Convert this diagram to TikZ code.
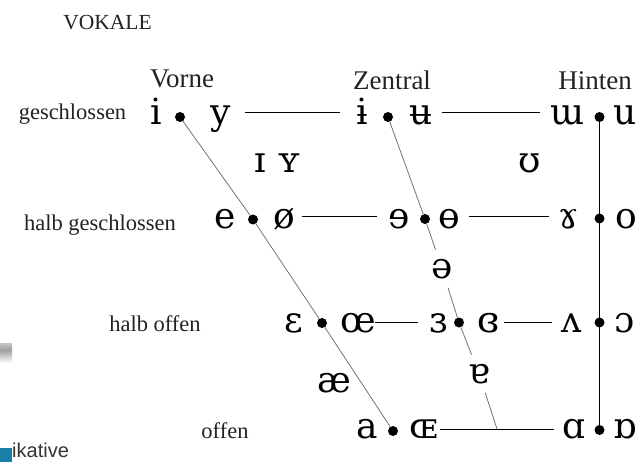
\documentclass[tikz,border=0pt]{standalone}
\usepackage{fontspec}
\setmainfont{Liberation Serif}
\newfontfamily\ipafont{DejaVu Serif}
\newfontfamily\artsans{Liberation Sans}
\definecolor{txt}{HTML}{222222}
\definecolor{tealblue}{HTML}{1A7FA8}
\begin{document}
\begin{tikzpicture}[x=1pt,y=-1pt,
  ipa/.style={font=\ipafont\fontsize{36}{40}\selectfont, anchor=base, inner sep=0pt, text=black},
  gapipa/.style={ipa, inner sep=9pt},
  lab/.style={font=\fontsize{22.5}{26}\selectfont, anchor=base, inner sep=0pt, text=txt},
  head/.style={font=\fontsize{27}{30}\selectfont, anchor=base, inner sep=0pt, text=txt},
  dotn/.style={circle, fill=black, inner sep=0pt, minimum size=10pt},
  hline/.style={line width=1pt, draw=black},
  slant/.style={line width=0.8pt, draw=black!55},
  backline/.style={line width=1.3pt, draw=black}]
\useasboundingbox (0,0) rectangle (644,462);
% artefacts at the left edge
\shade[top color=gray!45, bottom color=gray!75] (0,343) rectangle (12,350);
\shade[top color=gray!75, bottom color=gray!5] (0,350) rectangle (12,362);
\fill[tealblue] (0,448) rectangle (12,462);
\node[font=\artsans\fontsize{20}{22}\selectfont, text=black!80, anchor=base west, inner sep=0pt] (ikative) at (12,457) {ikative};
% titles
\node[font=\fontsize{21.5}{24}\selectfont, anchor=base, inner sep=0pt, text=txt] (title) at (107.5,30) {VOKALE};
\node[head] (vorne) at (182,88) {Vorne};
\node[head] (zentral) at (392,90) {Zentral};
\node[head] (hinten) at (595,90) {Hinten};
% row labels
\node[lab] (l1) at (72.5,120) {geschlossen};
\node[lab] (l2) at (100,230) {halb geschlossen};
\node[lab] (l3) at (155,331) {halb offen};
\node[lab] (l4) at (225,438) {offen};
% vowels row 1
\node[ipa] (v11) at (156,125) {i};
\node[ipa] (v12) at (221,125) {y};
\node[ipa] (v13) at (362,125) {ɨ};
\node[ipa] (v14) at (421,125) {ʉ};
\node[ipa] (v15) at (568,125) {ɯ};
\node[ipa] (v16) at (625,125) {u};
% row 2
\node[ipa] (v21) at (225,228.5) {e};
\node[ipa] (v22) at (284,228.5) {ø};
\node[ipa] (v23) at (399.5,228.5) {ɘ};
\node[ipa] (v24) at (449.5,228.5) {ɵ};
\node[ipa] (v25) at (569,228.5) {ɤ};
\node[ipa] (v26) at (626,228.5) {o};
% row 3
\node[ipa] (v31) at (294,332) {ɛ};
\node[ipa] (v32) at (358.5,332) {œ};
\node[ipa] (v33) at (439,332) {ɜ};
\node[ipa] (v34) at (489,332) {ɞ};
\node[ipa] (v35) at (572,332) {ʌ};
\node[ipa] (v36) at (625,332) {ɔ};
% row 4
\node[ipa] (v41) at (367.5,438) {a};
\node[ipa] (v42) at (424,438) {ɶ};
\node[ipa] (v45) at (574.5,438) {ɑ};
\node[ipa] (v46) at (625,438) {ɒ};
% in-between vowels
\node[ipa] (nearclose) at (278,173) {ɪ ʏ};
\node[ipa] (upsilon) at (530,173) {ʊ};
\node[gapipa] (schwa) at (442,278) {ə};
\node[ipa] (ash) at (334,392) {æ};
\node[gapipa] (turna) at (479,383) {ɐ};
% dots
\node[dotn] (d11) at (180,117) {};
\node[dotn] (d12) at (388,117) {};
\node[dotn] (d13) at (599.5,117) {};
\node[dotn] (d21) at (253,219.5) {};
\node[dotn] (d22) at (425,219) {};
\node[dotn] (d23) at (599.5,218.5) {};
\node[dotn] (d31) at (322,323) {};
\node[dotn] (d32) at (459,322.5) {};
\node[dotn] (d33) at (599.5,322.5) {};
\node[dotn] (d41) at (393,431) {};
\node[dotn] (d43) at (599.5,430) {};
% horizontal line ends
\coordinate (h1a) at (245,113); \coordinate (h1b) at (340,113);
\coordinate (h1c) at (442,113); \coordinate (h1d) at (540,113);
\coordinate (h2a) at (302,216.5); \coordinate (h2b) at (377,216.5);
\coordinate (h2c) at (469,216.5); \coordinate (h2d) at (549,216.5);
\coordinate (h3a) at (375,322.5); \coordinate (h3b) at (418,322.5);
\coordinate (h3c) at (504,322.5); \coordinate (h3d) at (552,322.5);
\coordinate (h4a) at (440,429); \coordinate (h4b) at (554,429);
\coordinate (cend) at (497,429);
\begin{scope}[on background layer/.style={}]
\draw[hline] (h1a) -- (h1b);
\draw[hline] (h1c) -- (h1d);
\draw[hline] (h2a) -- (h2b);
\draw[hline] (h2c) -- (h2d);
\draw[hline] (h3a) -- (h3b);
\draw[hline] (h3c) -- (h3d);
\draw[hline] (h4a) -- (h4b);
% slanted lines
\draw[slant] (d11) -- (d21) -- (d31) -- (d41);
\draw[slant] (d12) -- (d22) -- (schwa);
\draw[slant] (schwa) -- (d32) -- (turna);
\draw[slant] (turna) -- (cend);
% back line
\draw[backline] (d13.center) -- (d43.center);
\end{scope}
\end{tikzpicture}
\end{document}
